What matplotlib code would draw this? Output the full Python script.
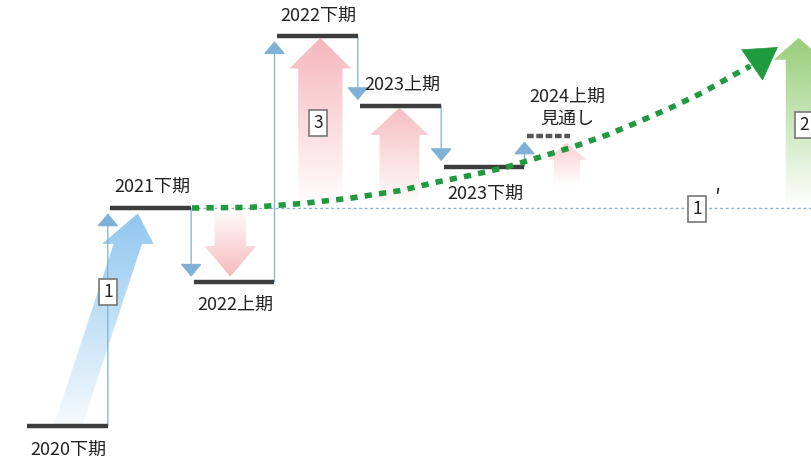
import numpy as np
import matplotlib.pyplot as plt
from matplotlib.patches import Polygon, FancyArrowPatch
from matplotlib.colors import to_rgb

plt.rcParams['font.family'] = ['Noto Sans CJK JP', 'DejaVu Sans']

# periods (one slot each) and levels (index, 2020下期 = 0, 2021下期 = 100)
periods = ['2020下期', '2021下期', '2022上期', '2022下期', '2023上期', '2023下期', '2024上期\n見通し']
levels = [0, 100, 66, 179, 147, 119, 133]
label_off = [-17, 15, -16.5, 14.5, 15, -20, 20.5]  # points, + above / - below
forecast = [False, False, False, False, False, False, True]
baseline = 100

# green trend line (slot, level)
trend_x = [1.98, 2.68, 3.28, 3.88, 4.48, 4.92, 5.34, 5.76, 6.16, 6.55, 6.96, 7.33, 7.72, 8.10, 8.48, 8.68]
trend_y = [100, 100.3, 102.0, 104.5, 108.0, 111.9, 115.1, 118.8, 123.4, 128.0, 133.5, 139.4, 145.9, 152.8, 161.0, 165.1]
trend_tip = (9.01, 173.8)

# boxed markers: text, slot, level
markers = [('1', 0.97, 61.5), ('3', 3.49, 139), ('1', 8.04, 99.5), ('2', 9.33, 138)]

fig = plt.figure(figsize=(8.12, 4.62), dpi=100)
ax = fig.add_axes([0, 0, 1, 1])
ax.set_xlim(-0.324, 9.42)
ax.set_ylim(-16.5, 195.4)
ax.axis('off')


def grad_arrow(xb, yb, xt, yt, bw, hw, hl, color, a_base, a_tip):
    sgn = 1 if yt > yb else -1
    yh = yt - sgn * hl
    xh = xb + (xt - xb) * (yh - yb) / (yt - yb)
    verts = [(xb - bw / 2, yb), (xh - bw / 2, yh), (xh - hw / 2, yh), (xt, yt),
             (xh + hw / 2, yh), (xh + bw / 2, yh), (xb + bw / 2, yb)]
    poly = Polygon(verts, closed=True, facecolor='none', edgecolor='none')
    ax.add_patch(poly)
    n = 100
    img = np.zeros((n, 1, 4))
    img[:, 0, :3] = to_rgb(color)
    a = np.linspace(0, 1, n)
    lo, hi = min(yb, yt), max(yb, yt)
    if yt > yb:
        img[:, 0, 3] = a_base + (a_tip - a_base) * a
    else:
        img[:, 0, 3] = a_tip + (a_base - a_tip) * a
    xs = [v[0] for v in verts]
    im = ax.imshow(img, extent=[min(xs), max(xs), lo, hi], origin='lower',
                   aspect='auto', interpolation='bilinear', zorder=1)
    im.set_clip_path(poly)


# big shaded arrows
grad_arrow(0.49, 0, 1.33, 97.5, 0.34, 0.62, 14, '#84c1ee', 0.08, 0.9)
grad_arrow(2.44, baseline - 2, 2.44, 68.5, 0.38, 0.62, 14, '#f39aa2', 0.05, 0.7)
grad_arrow(3.52, baseline, 3.52, 178, 0.53, 0.74, 14, '#f29aa2', 0.0, 0.72)
grad_arrow(4.47, baseline, 4.47, 146, 0.48, 0.70, 12.5, '#f29aa2', 0.0, 0.65)
grad_arrow(6.48, 110, 6.48, 130, 0.31, 0.48, 8, '#f5a5ad', 0.0, 0.55)
grad_arrow(9.26, baseline, 9.26, 178, 0.31, 0.60, 10, '#8cc86a', 0.0, 0.9)

# baseline (2021下期 level)
ax.plot([1.98, 9.42], [baseline, baseline], color='#8db1d1', lw=1,
        linestyle=(0, (2, 2)), zorder=2)

# connectors between periods
for i in range(len(levels) - 1):
    xc = i + 0.97
    y0, y1 = levels[i], levels[i + 1]
    d = 2.5 if y1 > y0 else -2.5
    arr = FancyArrowPatch((xc, y0), (xc, y1 - d),
                          arrowstyle='-|>,head_length=0.45,head_width=0.38',
                          mutation_scale=18, color='#7fb0d6', lw=0.9,
                          shrinkA=0, shrinkB=0, zorder=3)
    ax.add_patch(arr)

# period bars and labels
for i, (p, lv) in enumerate(zip(periods, levels)):
    if forecast[i]:
        ax.plot([i, i + 0.52], [lv, lv], color='#555555', lw=3.2,
                linestyle=(0, (1.5, 0.6)), solid_capstyle='butt', zorder=4)
        xl = i + 0.48
    else:
        ax.plot([i, i + 0.97], [lv, lv], color='#3d3d3d', lw=3.2,
                solid_capstyle='butt', zorder=4)
        xl = i + 0.5
    ax.annotate(p, (xl, lv), xytext=(0, label_off[i]), textcoords='offset points',
                ha='center', va='center', fontsize=13, color='#222222',
                linespacing=1.3, zorder=6)

# green trend line with arrowhead
ax.plot(trend_x, trend_y, color='#1f9a3e', lw=4, linestyle=(0, (1.3, 1.3)),
        zorder=5)
ax.annotate('', xy=trend_tip, xytext=(trend_x[-1], trend_y[-1]),
            arrowprops=dict(arrowstyle='-|>,head_length=1.0,head_width=0.6',
                            color='#1f9a3e', lw=0.5, mutation_scale=22,
                            shrinkA=0, shrinkB=0), zorder=5)

# boxed markers
for t, xm, ym in markers:
    ax.text(xm, ym, t, ha='center', va='center', fontsize=12.5, color='#222222',
            bbox=dict(boxstyle='square,pad=0.25', facecolor='white',
                      edgecolor='#777777', lw=1.2), zorder=7)
ax.text(8.28, 104, '′', ha='center', va='center', fontsize=15, color='#222222',
        zorder=7)

fig.savefig('out.png', dpi=100)
